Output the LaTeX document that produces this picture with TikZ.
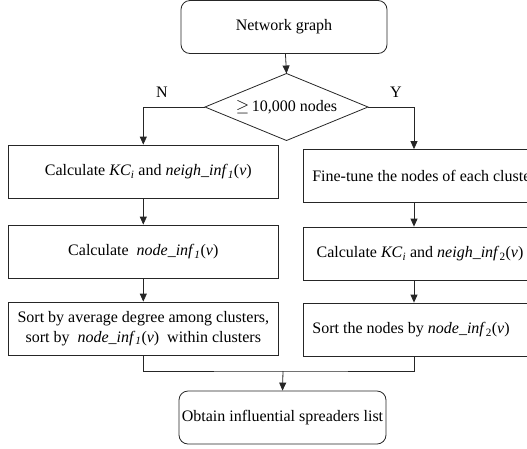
\documentclass[tikz,border=0pt]{standalone}
\usepackage{fontspec}
\setmainfont{Liberation Serif}
\usetikzlibrary{arrows.meta}
\newcommand{\itx}[1]{\textit{#1}}
\newcommand{\KCi}{\itx{KC}\textsubscript{\itx{i}}}
\begin{document}
\begin{tikzpicture}[x=1pt,y=-1pt,
  every node/.style={font=\fontsize{16}{20}\selectfont},
  line/.style={line width=0.8pt, draw=black!85},
  arr/.style={line, -{Triangle[length=8pt,width=7pt]}},
  rbox/.style={line, rounded corners=9pt, minimum width=206pt, minimum height=53pt, inner sep=0pt},
  sbox/.style={line, minimum height=53pt, inner sep=0pt, align=center},
  lbl/.style={inner sep=0pt}]
\useasboundingbox (0,0) rectangle (527,448);
\node[rbox] (net) at (284,27) {Network graph};
\node[inner sep=0pt] (dec) at (286.5,107) {$\geq$\,10,000 nodes};
\coordinate (dT) at (286.5,73.5);
\coordinate (dB) at (286.5,140.5);
\coordinate (dL) at (205,107);
\coordinate (dR) at (368,107);
\draw[line] (dT) -- (dR) -- (dB) -- (dL) -- cycle;
\node[lbl] (N) at (162,92) {N};
\node[lbl] (Y) at (396,92) {Y};
\node[sbox, minimum width=269.5pt] (l1) at (143.3,171.5) {\hspace*{10pt}Calculate \KCi\ and \itx{neigh\_inf}\textsubscript{\itx{1}}(\itx{v})};
\node[sbox, minimum width=269.5pt] (l2) at (143.3,251.5) {Calculate \ \itx{node\_inf}\textsubscript{\itx{1}}(\itx{v})};
\node[sbox, minimum width=269.5pt] (l3) at (143.3,328.5) {Sort by average degree among clusters,\\sort by \ \itx{node\_inf}\textsubscript{\itx{1}}(\itx{v}) \ within clusters};
\node[sbox, minimum width=234pt] (r1) at (420,176) {\hspace*{8pt}Fine-tune the nodes of each cluster};
\node[sbox, minimum width=234pt] (r2) at (420,253.5) {Calculate \KCi\ and \itx{neigh\_inf}\textsubscript{2}(\itx{v})};
\node[sbox, minimum width=234pt] (r3) at (420,329.5) {Sort the nodes by \itx{node\_inf}\textsubscript{2}(\itx{v})\hspace*{18pt}};
\node[rbox, minimum width=207pt] (fin) at (282.5,417.5) {Obtain influential spreaders list};
\coordinate (mj) at (283,371);
\draw[arr] (net) -- (dT);
\draw[arr] (dL) -| (l1.north);
\draw[arr] (dR) -| ([xshift=-6pt]r1.north);
\draw[arr] (l1) -- (l2);
\draw[arr] (l2) -- (l3);
\draw[arr] ([xshift=-6pt]r1.south) -- ([xshift=-6pt]r2.north);
\draw[arr] ([xshift=-6pt]r2.south) -- ([xshift=-6pt]r3.north);
\draw[line] (l3.south) |- (mj) -| ([xshift=-6pt]r3.south);
\draw[arr] (mj) -- (fin.north);
\end{tikzpicture}
\end{document}
